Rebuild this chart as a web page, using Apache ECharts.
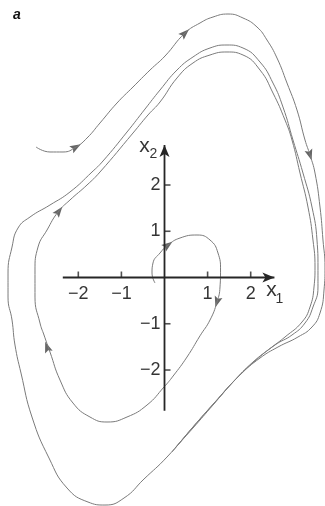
<!DOCTYPE html>
<html>
<head>
<meta charset="utf-8">
<style>
  html, body { margin: 0; padding: 0; background: #fff; }
  #chart { width: 325px; height: 506px; }
</style>
<script src="https://cdn.jsdelivr.net/npm/echarts@6.0.0/dist/echarts.min.js"></script>
</head>
<body>
<div id="chart"></div>
<script>
// trajectory starting outside the limit cycle (x1, x2)
const outerPath = [
  [-2.981, 2.822], [-2.657, 2.714], [-2.355, 2.714], [-2.053, 2.822], [-1.798, 3.016],
  [-1.497, 3.341], [-1.102, 3.773], [-0.731, 4.119], [-0.336, 4.486], [0.012, 4.789],
  [0.476, 5.286], [0.824, 5.503], [1.125, 5.632], [1.473, 5.697], [1.821, 5.611],
  [2.146, 5.416], [2.378, 5.135], [2.610, 4.746], [2.842, 4.205], [3.074, 3.622],
  [3.260, 2.973], [3.376, 2.649], [3.492, 2.259], [3.608, 1.524], [3.677, 0.811],
  [3.724, 0.227], [3.701, -0.270], [3.608, -0.768], [3.422, -1.070], [3.097, -1.286],
  [2.633, -1.503], [2.216, -1.741], [1.752, -2.108], [1.218, -2.649], [0.661, -3.232],
  [0.058, -3.881], [-0.476, -4.357], [-0.940, -4.768], [-1.381, -4.919], [-1.775, -4.854],
  [-2.262, -4.551], [-2.680, -3.903], [-3.075, -3.016], [-3.330, -2.065], [-3.469, -1.460],
  [-3.538, -0.919], [-3.631, -0.422], [-3.631, 0.097], [-3.538, 0.659], [-3.399, 1.070],
  [-3.121, 1.308], [-2.657, 1.568], [-2.193, 1.849], [-1.682, 2.281], [-1.427, 2.519],
  [-0.870, 3.146], [-0.452, 3.643], [-0.104, 4.054], [0.290, 4.486], [0.661, 4.768],
  [1.056, 4.962], [1.450, 5.027], [1.821, 4.962], [2.216, 4.659], [2.517, 4.205],
  [2.749, 3.686], [2.981, 2.973], [3.213, 2.259], [3.422, 1.524], [3.538, 0.811],
  [3.561, 0.227], [3.561, -0.205], [3.445, -0.638], [3.260, -0.984], [2.958, -1.243],
  [2.564, -1.459], [2.100, -1.805], [1.636, -2.216], [1.172, -2.692], [0.661, -3.232],
  [0.174, -3.773]
];

// trajectory starting near the origin
const innerPath = [
  [-0.220, -0.119], [-0.290, 0.097], [-0.267, 0.314], [-0.104, 0.530], [0.081, 0.703],
  [0.360, 0.854], [0.754, 0.919], [1.056, 0.811], [1.241, 0.530], [1.300, 0.162],
  [1.288, -0.205], [1.218, -0.530], [1.056, -0.919], [0.824, -1.260], [0.522, -1.719],
  [0.200, -2.130], [-0.012, -2.368], [-0.406, -2.757], [-0.870, -3.016], [-1.334, -3.124],
  [-1.729, -3.016], [-2.123, -2.714], [-2.425, -2.216], [-2.657, -1.611], [-2.796, -1.243],
  [-2.889, -0.984], [-3.005, -0.422], [-3.005, 0.162], [-2.935, 0.659], [-2.726, 1.027],
  [-2.471, 1.416], [-2.193, 1.676], [-1.798, 2.000], [-1.497, 2.281], [-0.731, 3.124],
  [-0.383, 3.514], [-0.104, 3.795], [0.290, 4.314], [0.661, 4.638], [1.056, 4.811],
  [1.450, 4.876], [1.821, 4.811], [2.216, 4.486], [2.517, 3.989], [2.796, 3.405],
  [2.958, 2.973], [3.144, 2.259], [3.329, 1.524], [3.445, 0.811], [3.492, 0.227],
  [3.469, -0.205], [3.376, -0.638], [3.190, -0.962], [2.796, -1.286], [2.494, -1.503],
  [2.053, -1.827], [1.589, -2.259], [1.125, -2.757], [0.661, -3.254], [0.244, -3.686]
];

// direction arrows on the trajectories
const outerArrows = [[-2.053, 2.822], [0.476, 5.286], [3.376, 2.649]];
const innerArrows = [[0.081, 0.703], [1.218, -0.530], [-2.726, -1.503], [-2.448, 1.438]];

// axes
const xAxisEnds = [-2.36, 2.55];
const yAxisEnds = [-2.88, 2.865];
const xTicks = [-2, -1, 1, 2];
const yTicks = [2, 1, -1, -2];

const fontFamily = '"Liberation Sans", Arial, Helvetica, sans-serif';
const curveColor = '#7a7a7a';
const arrowColor = '#666';
const axisColor = '#262626';

const fmt = v => (v < 0 ? '\u2212' + Math.abs(v) : String(v));

// arrow head drawn along a polyline; anchor 0.5 = centred on point, 1 = tip on point
function arrowHead(path, len, half, notch, color, anchor) {
  return function (params, api) {
    const p = api.coord([api.value(0), api.value(1)]);
    let best = 0, bestD = Infinity;
    path.forEach((q, k) => {
      const c = api.coord(q);
      const d = (c[0] - p[0]) ** 2 + (c[1] - p[1]) ** 2;
      if (d < bestD) { bestD = d; best = k; }
    });
    const a = api.coord(path[Math.max(best - 1, 0)]);
    const b = api.coord(path[Math.min(best + 1, path.length - 1)]);
    let dx = b[0] - a[0], dy = b[1] - a[1];
    const n = Math.hypot(dx, dy) || 1;
    dx /= n; dy /= n;
    const tip = [p[0] + dx * len * (1 - anchor), p[1] + dy * len * (1 - anchor)];
    const base = [tip[0] - dx * len, tip[1] - dy * len];
    const nx = -dy, ny = dx;
    return {
      type: 'polygon',
      shape: {
        points: [
          tip,
          [base[0] + nx * half, base[1] + ny * half],
          [base[0] + dx * notch, base[1] + dy * notch],
          [base[0] - nx * half, base[1] - ny * half]
        ]
      },
      style: { fill: color }
    };
  };
}

const chart = echarts.init(document.getElementById('chart'));

const xAxisLine = [[xAxisEnds[0], 0], [xAxisEnds[1], 0]];
const yAxisLine = [[0, yAxisEnds[0]], [0, yAxisEnds[1]]];

chart.setOption({
  animation: false,
  title: {
    text: 'a',
    left: 8,
    top: 3,
    textStyle: { fontSize: 14, fontStyle: 'italic', fontWeight: 'bold', color: '#111', fontFamily: fontFamily }
  },
  grid: { left: 0, right: 0, top: 0, bottom: 0 },
  xAxis: { type: 'value', min: -3.817, max: 3.724, show: false },
  yAxis: { type: 'value', min: -4.94, max: 6.0, show: false },
  series: [
    {
      type: 'line', data: outerPath, showSymbol: false, smooth: 0.5, clip: false,
      lineStyle: { color: curveColor, width: 1 }, silent: true
    },
    {
      type: 'line', data: innerPath, showSymbol: false, smooth: 0.5, clip: false,
      lineStyle: { color: curveColor, width: 1 }, silent: true
    },
    {
      type: 'line', data: xAxisLine, showSymbol: false,
      lineStyle: { color: axisColor, width: 1.8 }, silent: true
    },
    {
      type: 'line', data: yAxisLine, showSymbol: false,
      lineStyle: { color: axisColor, width: 1.8 }, silent: true
    },
    {
      type: 'custom', data: [xAxisLine[1]],
      renderItem: arrowHead(xAxisLine, 12, 5, 3, axisColor, 1)
    },
    {
      type: 'custom', data: [yAxisLine[1]],
      renderItem: arrowHead(yAxisLine, 12, 5, 3, axisColor, 1)
    },
    {
      type: 'custom', data: outerArrows,
      renderItem: arrowHead(outerPath, 11, 4, 2, arrowColor, 0.5)
    },
    {
      type: 'custom', data: innerArrows,
      renderItem: arrowHead(innerPath, 11, 4, 2, arrowColor, 0.5)
    },
    {
      type: 'scatter', data: xTicks.map(v => [v, 0]),
      symbol: 'rect', symbolSize: [1.6, 6], symbolOffset: [0, -3],
      itemStyle: { color: axisColor }, silent: true,
      label: {
        show: true, position: 'inside', offset: [0, 20],
        formatter: p => fmt(p.value[0]),
        color: '#000', fontSize: 18, fontFamily: fontFamily
      }
    },
    {
      type: 'scatter', data: yTicks.map(v => [0, v]),
      symbol: 'rect', symbolSize: [6, 1.6], symbolOffset: [3, 0],
      itemStyle: { color: axisColor }, silent: true,
      label: {
        show: true, position: 'left', distance: 4,
        formatter: p => fmt(p.value[1]),
        color: '#000', fontSize: 18, fontFamily: fontFamily
      }
    },
    {
      type: 'scatter', symbolSize: 0, silent: true,
      label: { show: true, position: 'inside', color: '#000', fontFamily: fontFamily },
      data: [
        { value: xAxisLine[1], label: { formatter: 'x', fontSize: 21, offset: [-3, 13] } },
        { value: xAxisLine[1], label: { formatter: '1', fontSize: 14, offset: [5, 22] } },
        { value: yAxisLine[1], label: { formatter: 'x', fontSize: 21, offset: [-20, 1] } },
        { value: yAxisLine[1], label: { formatter: '2', fontSize: 14, offset: [-11, 9] } }
      ]
    }
  ]
});
</script>
</body>
</html>
